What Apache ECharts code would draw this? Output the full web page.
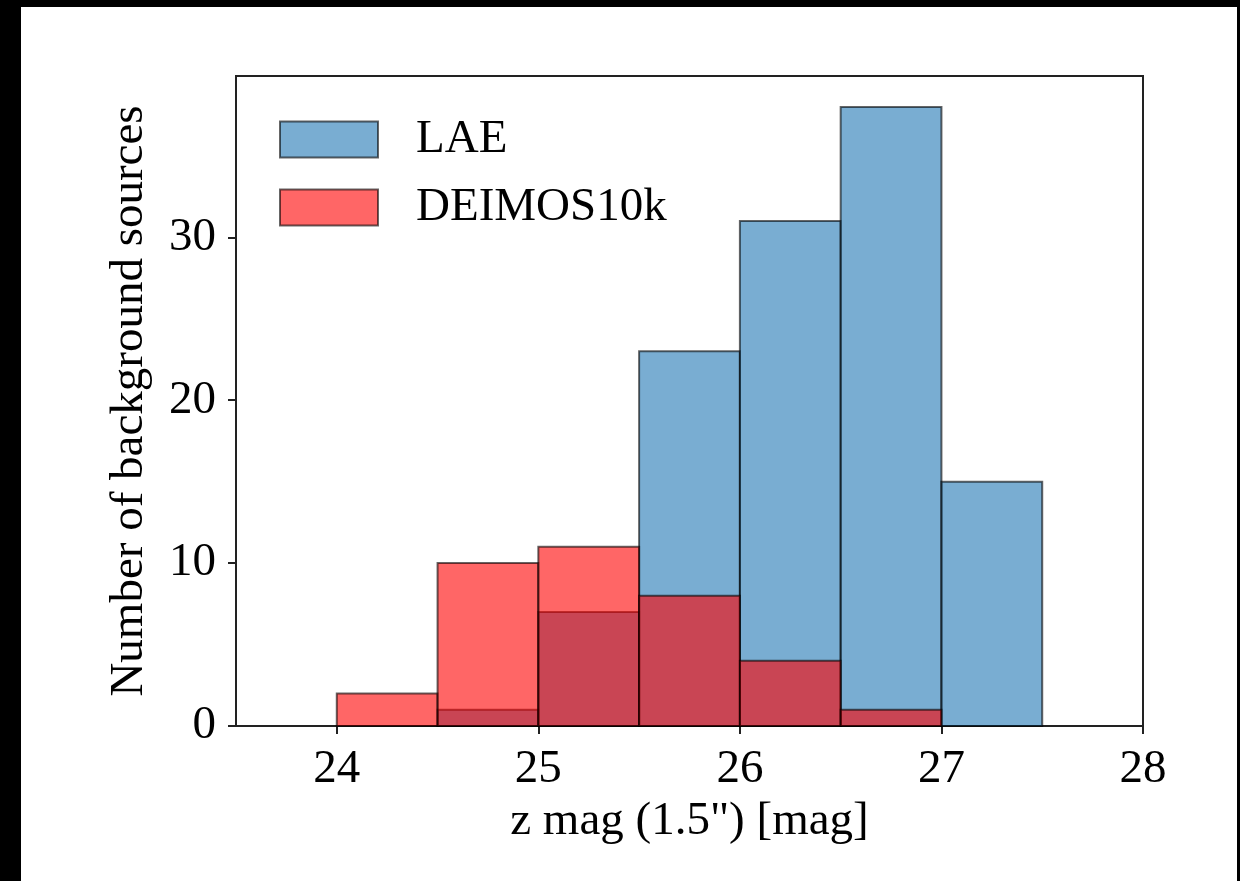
<!DOCTYPE html>
<html>
<head>
<meta charset="utf-8">
<script src="https://cdn.jsdelivr.net/npm/echarts@6/dist/echarts.min.js"></script>
<style>
  html, body { margin: 0; padding: 0; background: #000; width: 1240px; height: 881px; overflow: hidden; }
  #chart { position: absolute; left: 21px; top: 7px; width: 1216px; height: 874px; background: #fff; }
</style>
</head>
<body>
<div id="chart"></div>
<script>
// Histogram bin edges (z mag, 0.5 mag bins)
const binEdges = [24, 24.5, 25, 25.5, 26, 26.5, 27, 27.5];
// Counts per bin
const laeCounts = [0, 1, 7, 23, 31, 38, 15];
const deimosCounts = [2, 10, 11, 8, 4, 1, 0];
// Tick labels
const xTicks = [24, 25, 26, 27, 28];
const yTicks = [0, 10, 20, 30];
const seriesNames = ['LAE', 'DEIMOS10k'];

const FONT = 'Liberation Serif';
const laeFill = 'rgba(31,119,180,0.6)';
const deimosFill = 'rgba(255,0,0,0.6)';
const edge = 'rgba(0,0,0,0.6)';

function toBins(counts) {
  const out = [];
  for (let i = 0; i < counts.length; i++) {
    out.push([binEdges[i], binEdges[i + 1], counts[i]]);
  }
  return out;
}

function makeRender(fill) {
  return function (params, api) {
    const x0 = api.value(0), x1 = api.value(1), y = api.value(2);
    if (y <= 0) return null;
    const p0 = api.coord([x0, y]);
    const p1 = api.coord([x1, 0]);
    return {
      type: 'rect',
      shape: { x: p0[0], y: p0[1], width: p1[0] - p0[0], height: p1[1] - p0[1] },
      style: { fill: fill, stroke: edge, lineWidth: 2 }
    };
  };
}

const chart = echarts.init(document.getElementById('chart'), null, { renderer: 'canvas' });
chart.setOption({
  animation: false,
  backgroundColor: '#fff',
  grid: {
    left: 215, top: 69, right: 94, bottom: 155,
    show: true, borderColor: '#222', borderWidth: 2, backgroundColor: 'transparent'
  },
  legend: {
    left: 253, top: 104, orient: 'vertical',
    itemWidth: 98, itemHeight: 36, itemGap: 21,
    textStyle: { fontFamily: FONT, fontSize: 47, color: '#000', lineHeight: 36, padding: [0, 0, 0, 33] },
    data: [
      { name: seriesNames[0], icon: 'rect', itemStyle: { color: laeFill, borderColor: edge, borderWidth: 2 } },
      { name: seriesNames[1], icon: 'rect', itemStyle: { color: deimosFill, borderColor: edge, borderWidth: 2 } }
    ]
  },
  xAxis: {
    type: 'value', min: 23.5, max: 28,
    name: 'z mag (1.5") [mag]', nameLocation: 'middle', nameGap: 57,
    nameTextStyle: { fontFamily: FONT, fontSize: 47, color: '#000', verticalAlign: 'top' },
    axisLine: { show: true, onZero: false, lineStyle: { color: '#222', width: 2 } },
    axisTick: { show: true, inside: false, length: 8, lineStyle: { color: '#222', width: 2 }, customValues: xTicks },
    axisLabel: { fontFamily: FONT, fontSize: 47, color: '#000', margin: 20, customValues: xTicks },
    splitLine: { show: false }
  },
  yAxis: {
    type: 'value', min: 0, max: 39.9,
    name: 'Number of background sources', nameLocation: 'middle', nameGap: 83,
    nameTextStyle: { fontFamily: FONT, fontSize: 47, color: '#000' },
    axisLine: { show: true, lineStyle: { color: '#222', width: 2 } },
    axisTick: { show: true, inside: false, length: 8, lineStyle: { color: '#222', width: 2 }, customValues: yTicks },
    axisLabel: { fontFamily: FONT, fontSize: 47, color: '#000', margin: 20, customValues: yTicks },
    splitLine: { show: false }
  },
  series: [
    {
      name: seriesNames[0], type: 'custom', renderItem: makeRender(laeFill),
      itemStyle: { color: laeFill },
      encode: { x: [0, 1], y: 2 },
      data: toBins(laeCounts), z: 2
    },
    {
      name: seriesNames[1], type: 'custom', renderItem: makeRender(deimosFill),
      itemStyle: { color: deimosFill },
      encode: { x: [0, 1], y: 2 },
      data: toBins(deimosCounts), z: 3
    }
  ]
});
</script>
</body>
</html>
